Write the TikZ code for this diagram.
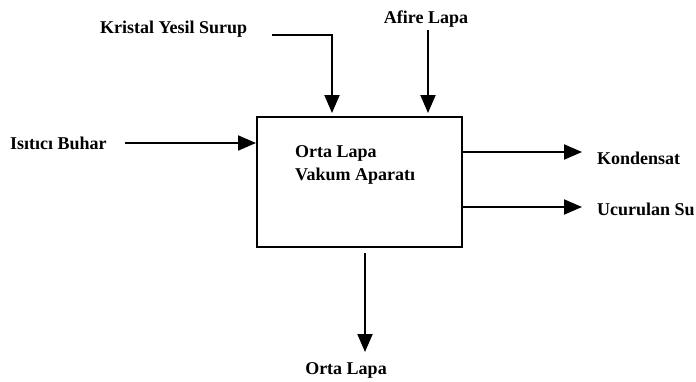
\documentclass[tikz,border=0pt]{standalone}
\usepackage{fontspec}
\setmainfont{Liberation Serif}
\usetikzlibrary{arrows.meta,positioning}

\begin{document}
\begin{tikzpicture}[
    x=1pt, y=-1pt,
    label/.style={font=\fontsize{18}{20}\selectfont\bfseries, inner sep=0pt},
    unit/.style={rectangle, draw, line width=2pt, minimum width=205pt, minimum height=130pt, inner sep=0pt},
    flow/.style={-{Triangle[length=18pt,width=15pt]}, line width=2pt}
]
\useasboundingbox (0,0) rectangle (696,381);

% Box
\node[unit] (aparat) at (359.5,182) {};
\node[label, align=left, anchor=north west] (aparatText) at (295,145) {Orta Lapa\\[3pt]Vakum Aparatı};

% Streams
\node[label, anchor=west] (kristal) at (100,29) {Kristal Yesil Surup};
\node[label] (afire) at (426,19) {Afire Lapa};
\node[label, anchor=west] (buhar) at (10,143) {Isıtıcı Buhar};
\node[label, anchor=west] (kondensat) at (597,158) {Kondensat};
\node[label, anchor=west] (ucurulan) at (597,209) {Ucurulan Su};
\node[label] (ortaLapa) at (346,370) {Orta Lapa};

% Connector ends
\coordinate (kStart) at (272,35);
\coordinate (kEnd) at (332,113);
\coordinate (aStart) at (428,30);
\coordinate (aEnd) at (428,113);
\coordinate (bStart) at (125,143);
\coordinate (kdEnd) at (582,152);
\coordinate (uEnd) at (582,207);
\coordinate (oStart) at (365,253);
\coordinate (oEnd) at (365,352);

% Arrows
\draw[flow] (kStart) -| (kEnd);
\draw[flow] (aStart) -- (aEnd);
\draw[flow] (bStart) -- (bStart -| aparat.west);
\draw[flow] (aparat.east |- kdEnd) -- (kdEnd);
\draw[flow] (aparat.east |- uEnd) -- (uEnd);
\draw[flow] (oStart) -- (oEnd);

\end{tikzpicture}
\end{document}
